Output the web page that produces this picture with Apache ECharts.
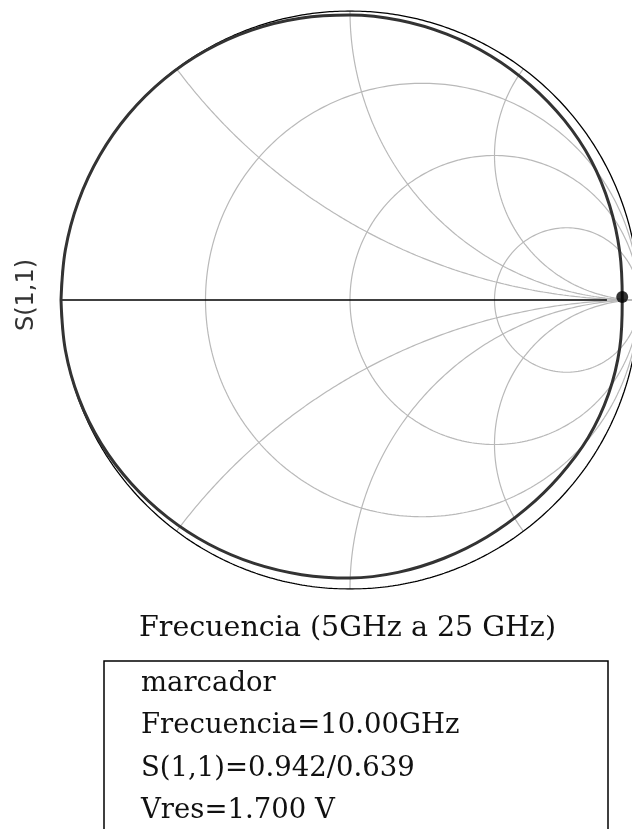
<!DOCTYPE html>
<html>
<head>
<meta charset="utf-8">
<script src="https://cdn.jsdelivr.net/npm/echarts@6/dist/echarts.min.js"></script>
<style>
  html, body { margin: 0; padding: 0; background: #ffffff; overflow: hidden; }
  #chart { width: 660px; height: 829px; }
</style>
</head>
<body>
<div id="chart"></div>
<script>
// Smith chart grid: constant-resistance circles and constant-reactance arcs
const resistanceCircles = [1 / 3, 1, 3];
const reactanceArcs = [0.5, 1, 2];

// S(1,1) trace, 5 GHz to 25 GHz, as reflection magnitude vs. angle (degrees)
const traceAngleDeg = [-180, -170, -160, -150, -140, -130, -120, -110, -100, -90, -80, -70, -60, -50, -40, -30, -20, -10,
                       0, 10, 20, 30, 40, 50, 60, 70, 80, 90, 100, 110, 120, 130, 140, 150, 160, 170, 180];
const traceMag = [1.000, 1.000, 0.998, 0.994, 0.988, 0.982, 0.976, 0.970, 0.965, 0.962, 0.957, 0.951, 0.947, 0.945, 0.947, 0.952, 0.952, 0.948,
                  0.942, 0.948, 0.956, 0.964, 0.968, 0.971, 0.975, 0.979, 0.983, 0.986, 0.990, 0.994, 0.997, 0.999, 1.000, 1.000, 1.000, 1.000, 1.000];

// Marker at 10 GHz: magnitude / angle (degrees)
const markerMag = 0.942;
const markerAngleDeg = 0.639;

const axisTitle = 'S(1,1)';
const sweepTitle = 'Frecuencia (5GHz a 25 GHz)';
const infoLines = ['marcador', 'Frecuencia=10.00GHz', 'S(1,1)=0.942/0.639', 'Vres=1.700 V'];

const rad = d => d * Math.PI / 180;
const polar = (m, a) => [m * Math.cos(rad(a)), m * Math.sin(rad(a))];

function circlePts(cx, cy, r, n) {
  const pts = [];
  for (let i = 0; i <= n; i++) {
    const t = 2 * Math.PI * i / n;
    pts.push([cx + r * Math.cos(t), cy + r * Math.sin(t)]);
  }
  return pts;
}

// Reactance arc: gamma = (z-1)/(z+1), z = r + jx, r from 0 to infinity
function reactancePts(x) {
  const pts = [];
  const n = 600;
  for (let i = 0; i < n; i++) {
    const t = i / n;
    const r = t / (1 - t);
    const dr = r + 1, den = dr * dr + x * x;
    const re = ((r - 1) * (r + 1) + x * x) / den;
    const im = (2 * x) / den;
    pts.push([re, im]);
  }
  pts.push([1, 0]);
  return pts;
}

const gridColor = '#b9b9b9';
const series = [];

resistanceCircles.forEach(r => {
  series.push({
    type: 'line', data: circlePts(r / (r + 1), 0, 1 / (r + 1), 360),
    showSymbol: false, silent: true, animation: false,
    lineStyle: { color: gridColor, width: 1.2 }
  });
});
reactanceArcs.forEach(x => {
  [x, -x].forEach(v => {
    series.push({
      type: 'line', data: reactancePts(v),
      showSymbol: false, silent: true, animation: false,
      lineStyle: { color: gridColor, width: 1.2 }
    });
  });
});

// Outer boundary |gamma| = 1
series.push({
  type: 'line', data: circlePts(0, 0, 1, 720),
  showSymbol: false, silent: true, animation: false,
  lineStyle: { color: '#000000', width: 1.3 }
});

// Real axis
series.push({
  type: 'line', data: [[-1, 0], [0.889, 0]],
  showSymbol: false, silent: true, animation: false,
  lineStyle: { color: '#000000', width: 1.6 }
});

// S(1,1) trace
series.push({
  type: 'line',
  data: traceAngleDeg.map((a, i) => polar(traceMag[i], a)),
  smooth: 0.35, showSymbol: false, silent: true, animation: false,
  lineStyle: { color: '#333333', width: 3 }
});

// Marker
series.push({
  type: 'scatter',
  data: [polar(markerMag, markerAngleDeg)],
  symbol: 'circle', symbolSize: 12, silent: true, animation: false,
  itemStyle: { color: '#000000' },
  z: 5
});

const serif = '"DejaVu Serif", serif';
const graphics = [
  {
    type: 'text', x: 27, y: 295, rotation: Math.PI / 2,
    style: { text: axisTitle, font: '24px "DejaVu Sans", sans-serif', fill: '#333',
             align: 'center', verticalAlign: 'middle' }
  },
  {
    type: 'text', x: 139, y: 629,
    style: { text: sweepTitle, font: '28.5px ' + serif, fill: '#111',
             align: 'left', verticalAlign: 'middle' }
  },
  {
    type: 'rect', shape: { x: 104, y: 661, width: 504, height: 220 },
    style: { fill: 'none', stroke: '#000', lineWidth: 1.5 }
  }
];
infoLines.forEach((t, i) => {
  graphics.push({
    type: 'text', x: 141, y: 684 + i * 42.2,
    style: { text: t, font: '27.5px ' + serif, fill: '#111',
             align: 'left', verticalAlign: 'middle' }
  });
});

const chart = echarts.init(document.getElementById('chart'), null, { renderer: 'canvas' });
chart.setOption({
  backgroundColor: '#ffffff',
  animation: false,
  grid: { left: 61, top: 11, width: 578, height: 578 },
  xAxis: { type: 'value', min: -1, max: 1, show: false },
  yAxis: { type: 'value', min: -1, max: 1, show: false },
  series: series,
  graphic: graphics
});
</script>
</body>
</html>
